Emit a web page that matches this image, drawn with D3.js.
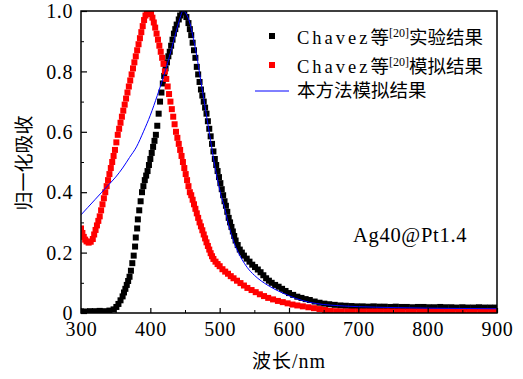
<!DOCTYPE html>
<html><head><meta charset="utf-8">
<script src="https://cdn.jsdelivr.net/npm/d3@7"></script>
<style>body{margin:0;background:#fff}svg{display:block}
.serif{font-family:"Liberation Serif","DejaVu Serif",serif}
.cjk{font-family:"Noto Sans CJK SC",sans-serif}
</style>
</head><body>
<svg id="c" width="523" height="379"></svg>
<script>
// ---- data ----
const xTicks = [300,400,500,600,700,800,900];
const yTicks = [0,0.2,0.4,0.6,0.8,1.0];
const yTickLabels = ["0","0.2","0.4","0.6","0.8","1.0"];
const seriesNames = ["Chavez等","实验结果","模拟结果","本方法模拟结果"];

const expWl = [300,306,313,320,327,334,341,347,351,354,357,360,362,364,366,368,370,372,374,376,378,379,381,382,384,386,388,390,392,394,396,398,400,402,404,406,408,410,412,414,416,418,420,422,424,426,428,430,432,434,436,438,441,443,446,449,452,455,457,459,461,463,465,467,469,471,473,475,477,479,481,483,485,487,489,491,493,495,497,499,501,503,505,507,509,511,513,515,517,519,521,523,526,529,532,535,539,543,547,551,555,559,563,567,571,575,580,585,590,595,600,606,612,618,624,630,637,644,651,658,666,674,682,690,698,706,714,722,730,738,746,754,762,770,778,786,794,802,810,818,826,834,842,850,858,866,874,882,890,898];
const expVal = [0.005,0.005,0.006,0.006,0.007,0.006,0.008,0.012,0.02,0.03,0.042,0.055,0.068,0.08,0.093,0.106,0.12,0.14,0.165,0.19,0.22,0.25,0.28,0.31,0.34,0.37,0.40,0.42,0.44,0.455,0.47,0.49,0.51,0.53,0.55,0.57,0.59,0.62,0.66,0.70,0.73,0.76,0.785,0.81,0.83,0.85,0.865,0.885,0.905,0.925,0.94,0.955,0.972,0.985,1.0,0.995,0.98,0.96,0.94,0.92,0.895,0.87,0.845,0.815,0.79,0.765,0.74,0.72,0.70,0.68,0.66,0.635,0.61,0.585,0.56,0.535,0.51,0.49,0.47,0.45,0.43,0.41,0.39,0.37,0.355,0.335,0.315,0.30,0.285,0.27,0.255,0.24,0.225,0.21,0.20,0.19,0.18,0.17,0.16,0.152,0.144,0.135,0.125,0.115,0.107,0.10,0.093,0.087,0.08,0.073,0.066,0.06,0.054,0.05,0.046,0.043,0.038,0.034,0.031,0.029,0.027,0.025,0.024,0.023,0.022,0.022,0.021,0.022,0.021,0.021,0.020,0.021,0.020,0.020,0.019,0.020,0.020,0.019,0.019,0.020,0.019,0.019,0.018,0.019,0.018,0.018,0.019,0.018,0.018,0.018,0.017,0.018];

const simWl = [300,302,304,306,308,311,314,317,319,321,323,325,327,329,331,333,335,337,339,341,343,345,347,349,351,353,355,357,359,361,363,365,367,369,371,373,375,377,379,381,383,385,387,389,391,393,395,397,399,401,403,405,407,409,411,413,415,417,419,421,423,425,427,429,431,433,435,437,439,441,443,445,447,449,451,453,455,457,459,461,463,465,467,469,471,473,475,477,479,481,483,485,487,489,491,494,497,500,504,508,512,516,520,525,530,535,540,546,552,558,564,570,577,584,591,598,605,612,620,628,636,644,652,660,668,676,684,692,700,708,716,724,732,740,748,756,764,772,780,788,796,804,812,820,828,836,844,852,860,868,876,884,892,900];
const simVal = [0.28,0.265,0.252,0.243,0.237,0.233,0.236,0.245,0.26,0.275,0.29,0.305,0.32,0.34,0.36,0.38,0.40,0.42,0.44,0.46,0.48,0.50,0.52,0.54,0.565,0.59,0.61,0.63,0.65,0.67,0.69,0.71,0.73,0.75,0.77,0.79,0.81,0.83,0.85,0.87,0.89,0.91,0.93,0.95,0.97,0.985,0.997,1.0,0.997,0.99,0.978,0.962,0.945,0.925,0.905,0.885,0.865,0.845,0.825,0.80,0.775,0.75,0.725,0.70,0.675,0.65,0.625,0.60,0.58,0.56,0.54,0.52,0.50,0.48,0.46,0.44,0.42,0.40,0.39,0.375,0.36,0.345,0.33,0.315,0.30,0.287,0.274,0.26,0.247,0.234,0.222,0.21,0.198,0.188,0.179,0.17,0.162,0.155,0.145,0.137,0.13,0.122,0.115,0.107,0.099,0.091,0.083,0.076,0.069,0.062,0.056,0.05,0.045,0.04,0.036,0.032,0.028,0.025,0.022,0.019,0.016,0.013,0.01,0.007,0.006,0.005,0.005,0.005,0.005,0.005,0.005,0.005,0.005,0.005,0.005,0.005,0.005,0.005,0.005,0.005,0.005,0.005,0.005,0.005,0.005,0.005,0.005,0.005,0.005,0.005,0.005,0.005,0.005,0.005];

const modWl = [300,310,320,330,340,350,360,370,380,390,400,410,420,430,437,442,447,452,457,462,467,472,477,482,487,492,497,502,507,512,517,522,527,532,540,550,560,570,580,590,600,610,620,630,640,650,660,680,700,750,800,850,900];
const modVal = [0.325,0.35,0.375,0.40,0.425,0.45,0.48,0.515,0.55,0.60,0.655,0.72,0.79,0.87,0.93,0.97,1.0,0.99,0.96,0.91,0.85,0.78,0.71,0.64,0.57,0.5,0.44,0.39,0.35,0.30,0.26,0.225,0.20,0.178,0.15,0.125,0.106,0.091,0.078,0.067,0.057,0.048,0.041,0.035,0.031,0.028,0.026,0.023,0.021,0.018,0.016,0.015,0.014];

// ---- layout ----
const svg = d3.select("#c");
const L = 81, R = 497, T = 11, B = 313;
const x = d3.scaleLinear().domain([300,900]).range([L,R]);
const y = d3.scaleLinear().domain([0,1]).range([B,T]);

svg.append("defs").append("clipPath").attr("id","clip")
  .append("rect").attr("x",L).attr("y",T).attr("width",R-L).attr("height",B-T);

const g = svg.append("g").attr("clip-path","url(#clip)");
const sq = 6;
function squares(wl, val, color){
  g.append("g").selectAll("rect").data(wl.map((w,i)=>[w,val[i]])).join("rect")
    .attr("x",d=>x(d[0])-sq/2).attr("y",d=>y(d[1])-sq/2)
    .attr("width",sq).attr("height",sq).attr("fill",color);
}
squares(expWl, expVal, "#000");
squares(simWl, simVal, "#ff0000");
g.append("path").datum(modWl.map((w,i)=>[w,modVal[i]]))
  .attr("fill","none").attr("stroke","#0000ff").attr("stroke-width",1)
  .attr("d", d3.line().x(d=>x(d[0])).y(d=>y(d[1])).curve(d3.curveMonotoneX));

// frame
svg.append("rect").attr("x",L).attr("y",T).attr("width",R-L).attr("height",B-T)
  .attr("fill","none").attr("stroke","#000").attr("stroke-width",1.5);

// axes with inward ticks
const minorX = d3.range(350,900,100);
const minorY = d3.range(0.1,1,0.2);
const xa = svg.append("g").attr("transform",`translate(0,${B})`);
xa.call(d3.axisBottom(x).tickValues(xTicks).tickSize(-5).tickFormat(d3.format("d")));
xa.attr("font-family",null).attr("font-size",null);
xa.select(".domain").remove();
xa.selectAll(".tick line").attr("stroke-width",1.2);
xa.selectAll("text").attr("dy",null).attr("y",23).attr("class","serif")
  .style("font-size","20px").style("letter-spacing","0.6px").attr("fill","#000");
svg.append("g").attr("transform",`translate(0,${B})`)
  .call(d3.axisBottom(x).tickValues(minorX).tickSize(-3).tickFormat(""))
  .call(a=>a.select(".domain").remove());

const ya = svg.append("g").attr("transform",`translate(${L},0)`);
ya.call(d3.axisLeft(y).tickValues(yTicks).tickSize(-6).tickFormat((d,i)=>yTickLabels[i]));
ya.attr("font-family",null).attr("font-size",null);
ya.select(".domain").remove();
ya.selectAll(".tick line").attr("stroke-width",1.2);
ya.selectAll("text").attr("x",-8).attr("dy","0.33em").attr("class","serif")
  .style("font-size","20px").style("letter-spacing","0.6px").attr("fill","#000");
svg.append("g").attr("transform",`translate(${L},0)`)
  .call(d3.axisLeft(y).tickValues(minorY).tickSize(-3).tickFormat(""))
  .call(a=>a.select(".domain").remove());

// axis titles
const xt = svg.append("text").attr("x",289).attr("y",368).attr("text-anchor","middle")
  .style("font-size","19px").attr("fill","#000");
xt.append("tspan").attr("class","cjk").style("letter-spacing","1px").text("波长");
xt.append("tspan").attr("class","serif").style("font-size","20px").style("letter-spacing","1px").text("/nm");
svg.append("text").attr("transform","translate(31,163) rotate(-90)").attr("text-anchor","middle")
  .attr("class","cjk").style("font-size","19px").attr("fill","#000").text("归一化吸收");

// annotation
svg.append("text").attr("x",353).attr("y",242).attr("class","serif").style("font-size","20.5px")
  .style("letter-spacing","0.7px").attr("fill","#000").text("Ag40@Pt1.4");

// legend
const lg = svg.append("g");
function legText(yy, parts){
  const t = lg.append("text").attr("x",297).attr("y",yy).style("font-size","18.5px").attr("fill","#000");
  parts.forEach(p=>{
    const s = t.append("tspan").attr("class",p.f).text(p.t);
    if(p.ls){ s.style("letter-spacing",p.ls); }
    if(p.sup){ s.style("font-size","12px").attr("dy",-7); }
    if(p.down){ s.attr("dy",7); }
  });
}
lg.append("rect").attr("x",272-3).attr("y",36-3).attr("width",6).attr("height",6).attr("fill","#000");
lg.append("rect").attr("x",272-3).attr("y",65-3).attr("width",6).attr("height",6).attr("fill","#ff0000");
lg.append("line").attr("x1",255).attr("x2",289).attr("y1",91).attr("y2",91).attr("stroke","#0000ff").attr("stroke-width",1);
legText(44,[{t:"Chavez",f:"serif",ls:"3px"},{t:"等",f:"cjk"},{t:"[20]",f:"serif",sup:true},{t:"实验结果",f:"cjk",down:true}]);
legText(73,[{t:"Chavez",f:"serif",ls:"3px"},{t:"等",f:"cjk"},{t:"[20]",f:"serif",sup:true},{t:"模拟结果",f:"cjk",down:true}]);
legText(97,[{t:seriesNames[3],f:"cjk"}]);
</script>
</body></html>
